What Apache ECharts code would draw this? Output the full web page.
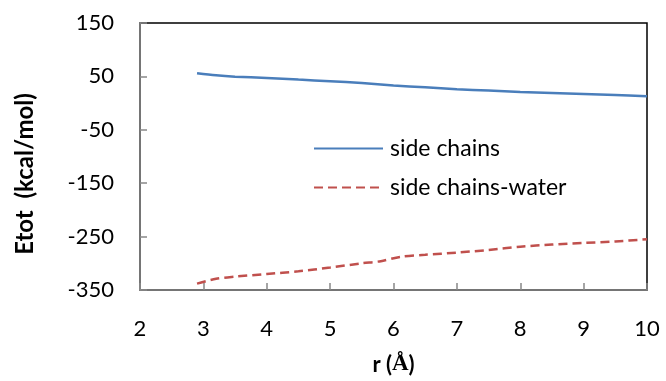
<!DOCTYPE html>
<html>
<head>
<meta charset="utf-8">
<script src="https://cdn.jsdelivr.net/npm/echarts@6/dist/echarts.min.js"></script>
<style>
  html, body { margin: 0; padding: 0; background: #fff; }
  #chart { width: 666px; height: 381px; }
</style>
</head>
<body>
<div id="chart"></div>
<script>
// Total interaction energy vs. cutoff radius r (Å)
const rSide = [2.9, 3.2, 3.5, 4, 4.5, 5, 5.5, 6, 6.5, 7, 7.5, 8, 8.5, 9, 9.5, 10];
const eSide = [56, 52, 49.5, 47, 44, 41, 37.5, 33, 29.5, 26, 23.5, 21, 19, 17, 15, 13];

const rWater = [2.9, 3.2, 3.5, 4, 4.5, 5, 5.5, 5.8, 6.1, 6.5, 7, 7.5, 8, 8.5, 9, 9.5, 10];
const eWater = [-338, -329, -325, -320, -315, -308, -300, -296, -288, -284, -280, -275, -269, -265, -262, -259, -255];

const seriesNames = ['side chains', 'side chains-water'];
const xTicks = [2, 3, 4, 5, 6, 7, 8, 9, 10];
const yTicks = [-350, -250, -150, -50, 50, 150];

const FONT = 'Lato';
const pair = (xs, ys) => xs.map((x, i) => [x, ys[i]]);

const chart = echarts.init(document.getElementById('chart'));
chart.setOption({
  animation: false,
  backgroundColor: '#fff',
  grid: {
    left: 140, right: 19, top: 23, bottom: 86,
    show: true, borderColor: '#000', borderWidth: 1.5
  },
  xAxis: {
    type: 'value',
    min: xTicks[0], max: xTicks[xTicks.length - 1], interval: 1,
    axisLine: { show: true, onZero: false, lineStyle: { color: '#888', width: 1.5 } },
    axisTick: { show: true, inside: true, length: 7, lineStyle: { color: '#888', width: 1.5 } },
    splitLine: { show: false },
    axisLabel: { color: '#000', fontFamily: FONT, fontSize: 22, margin: 28 },
    name: '{a|r (}{b|Å}{a|)}',
    nameLocation: 'middle',
    nameGap: 63,
    nameTextStyle: {
      rich: {
        a: { fontFamily: FONT, fontWeight: 'bold', fontSize: 22, color: '#000' },
        b: { fontFamily: 'Liberation Serif', fontWeight: 'bold', fontSize: 23, color: '#000' }
      }
    }
  },
  yAxis: {
    type: 'value',
    min: yTicks[0], max: yTicks[yTicks.length - 1], interval: 100,
    axisLine: { show: true, onZero: false, lineStyle: { color: '#888', width: 1.5 } },
    axisTick: { show: true, inside: true, length: 7, lineStyle: { color: '#888', width: 1.5 } },
    splitLine: { show: false },
    axisLabel: { color: '#000', fontFamily: FONT, fontSize: 22, margin: 26 }
  },
  legend: {
    orient: 'vertical',
    left: 308, top: 132,
    itemWidth: 69, itemHeight: 14, itemGap: 16,
    itemStyle: { opacity: 0 },
    textStyle: { fontFamily: FONT, fontSize: 23, color: '#000', padding: [0, 0, 0, 2] },
    data: seriesNames
  },
  graphic: [{
    type: 'text',
    rotation: Math.PI / 2,
    x: 25, y: 174,
    style: {
      text: 'Etot  (kcal/mol)',
      font: 'bold 24px ' + FONT,
      fill: '#000',
      align: 'center', verticalAlign: 'middle'
    }
  }],
  series: [
    {
      name: seriesNames[0],
      type: 'line',
      data: pair(rSide, eSide),
      smooth: 0.3,
      showSymbol: false,
      symbol: 'none',
      lineStyle: { color: '#4a7ebb', width: 2.5 },
      itemStyle: { color: '#4a7ebb' }
    },
    {
      name: seriesNames[1],
      type: 'line',
      data: pair(rWater, eWater),
      smooth: 0.3,
      showSymbol: false,
      symbol: 'none',
      lineStyle: { color: '#c0504d', width: 2.5, type: [9, 5] },
      itemStyle: { color: '#c0504d' }
    }
  ]
});
</script>
</body>
</html>
